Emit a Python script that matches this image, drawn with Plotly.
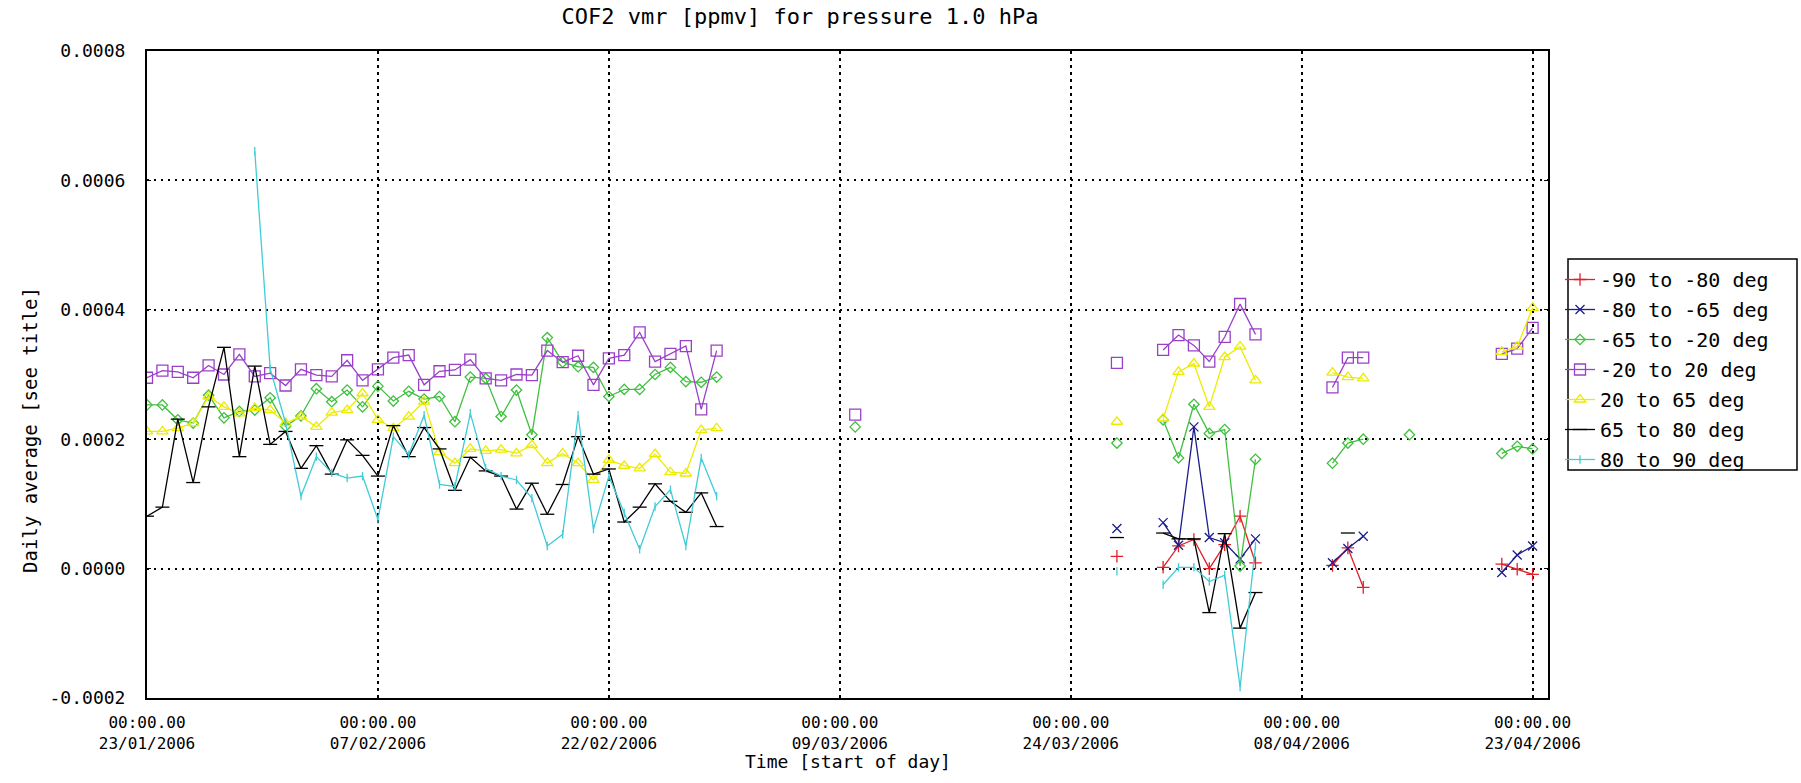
import datetime as dt
import plotly.graph_objects as go

# ---------------- data (values in units of 1e-4 ppmv) ----------------
START = dt.date(2006, 1, 23)
SCALE = 1e-4

EARLY_DAYS = [0, 1, 2, 3, 4, 5, 6, 7, 8, 9, 10, 11, 12, 13, 14, 15, 16, 17, 18, 19,
              20, 21, 22, 23, 24, 25, 26, 27, 28, 29, 30, 31, 32, 33, 34, 35, 36, 37]
LATE_DAYS = [46, 63, 66, 67, 68, 69, 70, 71, 72, 77, 78, 79, 82, 88, 89, 90]

N = None

# -90 to -80 deg (late period only)
red_late = [N, 0.19, 0.02, 0.35, 0.45, 0.00, 0.37, 0.81, 0.09, 0.05, 0.32, -0.29, N, 0.07, -0.01, -0.09]
# -80 to -65 deg (late period only)
blue_late = [N, 0.62, 0.71, 0.36, 2.19, 0.48, 0.40, 0.15, 0.46, 0.09, 0.31, 0.50, N, -0.06, 0.21, 0.35]

# -65 to -20 deg
green_early = [2.53, 2.53, 2.30, 2.25, 2.68, 2.33, 2.43, 2.45, 2.64, 2.20, 2.36, 2.78, 2.58, 2.76, 2.50,
               2.82, 2.59, 2.74, 2.62, 2.66, 2.27, 2.96, 2.94, 2.35, 2.76, 2.07, 3.57, 3.19, 3.12, 3.11,
               2.66, 2.77, 2.77, 3.00, 3.11, 2.89, 2.88, 2.96]
green_late = [2.19, 1.94, 2.30, 1.71, 2.54, 2.09, 2.15, 0.04, 1.69, 1.63, 1.94, 2.00, 2.07, 1.78, 1.89, 1.85]

# -20 to 20 deg
purple_early = [2.95, 3.06, 3.04, 2.95, 3.14, 3.00, 3.31, 2.97, 3.02, 2.83, 3.08, 2.99, 2.97, 3.22, 2.91,
                3.08, 3.26, 3.30, 2.84, 3.05, 3.07, 3.23, 2.94, 2.91, 3.00, 2.99, 3.37, 3.19, 3.29, 2.84,
                3.25, 3.30, 3.65, 3.20, 3.32, 3.44, 2.46, 3.37]
purple_late = [2.38, 3.18, 3.38, 3.61, 3.45, 3.20, 3.58, 4.09, 3.62, 2.80, 3.26, 3.26, N, 3.32, 3.40, 3.72]

# 20 to 65 deg
yellow_early = [2.12, 2.12, 2.17, 2.25, 2.66, 2.50, 2.40, 2.48, 2.45, 2.25, 2.35, 2.19, 2.41, 2.45, 2.71,
                2.30, 2.17, 2.35, 2.58, 1.80, 1.63, 1.85, 1.82, 1.84, 1.78, 1.91, 1.63, 1.78, 1.63, 1.37,
                1.68, 1.59, 1.55, 1.77, 1.49, 1.47, 2.14, 2.17]
yellow_late = [N, 2.27, 2.32, 3.04, 3.17, 2.50, 3.27, 3.43, 2.91, 3.03, 2.96, 2.94, N, 3.35, 3.43, 4.03]

# 65 to 80 deg
black_early = [0.81, 0.95, 2.31, 1.33, 2.50, 3.42, 1.73, 3.13, 1.92, 2.12, 1.55, 1.90, 1.46, 1.99, 1.75,
               1.43, 2.21, 1.73, 2.18, 1.85, 1.21, 1.72, 1.51, 1.43, 0.92, 1.32, 0.84, 1.30, 2.04, 1.46,
               1.54, 0.72, 0.95, 1.31, 1.04, 0.87, 1.17, 0.65]
black_late = [N, 0.48, 0.55, 0.46, 0.46, -0.68, 0.54, -0.92, -0.37, N, 0.55, N, N, N, N, N]

# 80 to 90 deg
cyan_early = [N, N, N, N, N, N, N, 6.45, 3.09, 2.25, 1.12, 1.73, 1.48, 1.40, 1.43,
              0.76, 2.04, 1.76, 2.37, 1.30, 1.27, 2.40, 1.55, 1.43, 1.37, 1.09, 0.35, 0.53, 2.37, 0.61,
              1.43, 0.86, 0.30, 0.96, 1.22, 0.35, 1.71, 1.12]
cyan_late = [N, -0.04, -0.25, 0.02, 0.02, -0.20, -0.10, -1.83, 0.35, N, N, N, N, N, N, N]

NAMES = ["-90 to -80 deg", "-80 to -65 deg", "-65 to -20 deg", "-20 to 20 deg",
         "20 to 65 deg", "65 to 80 deg", "80 to 90 deg"]

X_TICK_DAYS = [0, 15, 30, 45, 60, 75, 90]
Y_TICKS = [-0.0002, 0.0, 0.0002, 0.0004, 0.0006, 0.0008]
Y_TICK_TEXT = ["-0.0002", "0.0000", "0.0002", "0.0004", "0.0006", "0.0008"]

# ---------------- styles ----------------
STYLES = [
    dict(color="#e0202a", symbol="cross-thin", size=9),
    dict(color="#1e1e8c", symbol="x-thin", size=9),
    dict(color="#40c040", symbol="diamond-open", size=8),
    dict(color="#9a40c8", symbol="square-open", size=11),
    dict(color="#ecec00", symbol="triangle-up-open", size=10),
    dict(color="#000000", symbol="line-ew", size=10),
    dict(color="#40ccd8", symbol="line-ns", size=6),
]


def day_to_date(d):
    return START + dt.timedelta(days=d)


def build_xy(days, vals):
    xs, ys = [], []
    prev = None
    for d, v in zip(days, vals):
        if prev is not None and d - prev > 1:
            xs.append(None)
            ys.append(None)
        xs.append(day_to_date(d))
        ys.append(None if v is None else v * SCALE)
        prev = d
    return xs, ys


series = [
    (LATE_DAYS, red_late),
    (LATE_DAYS, blue_late),
    (EARLY_DAYS + LATE_DAYS, green_early + green_late),
    (EARLY_DAYS + LATE_DAYS, purple_early + purple_late),
    (EARLY_DAYS + LATE_DAYS, yellow_early + yellow_late),
    (EARLY_DAYS + LATE_DAYS, black_early + black_late),
    (EARLY_DAYS + LATE_DAYS, cyan_early + cyan_late),
]

FONT = "DejaVu Sans Mono"

fig = go.Figure()
for i, ((days, vals), name, st) in enumerate(zip(series, NAMES, STYLES)):
    xs, ys = build_xy(days, vals)
    fig.add_trace(go.Scatter(
        x=xs, y=ys, name=name, mode="lines+markers", connectgaps=False,
        legendgroup=f"g{i}",
        line=dict(color=st["color"], width=1.3),
        marker=dict(symbol=st["symbol"], size=st["size"], color=st["color"],
                    line=dict(color=st["color"], width=1.3)),
    ))

L, R, T, B = 147, 1548, 51, 698
W, H = 1801, 783
plot_w, plot_h = R - L, B - T


def px_x(p):
    return (p - L) / plot_w


def px_y(p):
    return (B - p) / plot_h


fig.update_layout(
    width=W, height=H,
    margin=dict(l=L, r=W - R, t=T, b=H - B, pad=0),
    paper_bgcolor="white", plot_bgcolor="white",
    font=dict(family=FONT, color="black", size=16),
    title=dict(text="COF2 vmr [ppmv] for pressure 1.0 hPa", x=px_x(800), xref="paper",
               xanchor="center", y=1 - 16 / H, yanchor="middle",
               font=dict(family=FONT, size=22, color="black")),
    showlegend=True,
    legend=dict(x=px_x(1560), y=px_y(260), xanchor="left", yanchor="top",
                bgcolor="rgba(0,0,0,0)", borderwidth=0, traceorder="grouped",
                tracegroupgap=1, font=dict(family=FONT, size=20, color="black")),
    xaxis=dict(
        type="date", range=[day_to_date(0), day_to_date(91)],
        tickvals=[day_to_date(d) for d in X_TICK_DAYS],
        ticktext=["00:00.00<br>" + day_to_date(d).strftime("%d/%m/%Y") for d in X_TICK_DAYS],
        showgrid=True, gridcolor="black", gridwidth=2, griddash="3px,4px",
        showline=True, linecolor="black", linewidth=2, mirror=True,
        ticks="", ticklabelstandoff=9, tickfont=dict(family=FONT, size=16), zeroline=False,
    ),
    yaxis=dict(
        range=[-0.0002, 0.0008], tickvals=Y_TICKS, ticktext=Y_TICK_TEXT,
        showgrid=True, gridcolor="black", gridwidth=1.5, griddash="2px,5px",
        showline=True, linecolor="black", linewidth=2, mirror="ticks",
        ticks="inside", ticklen=4, tickcolor="black", ticklabelstandoff=16,
        tickfont=dict(family=FONT, size=18), zeroline=False,
    ),
    shapes=[dict(type="rect", xref="paper", yref="paper",
                 x0=px_x(1568), x1=px_x(1797), y0=px_y(470), y1=px_y(259),
                 line=dict(color="black", width=1.5), fillcolor="rgba(0,0,0,0)")],
    annotations=[
        dict(text="Daily average [see title]", xref="paper", yref="paper",
             x=px_x(30), y=px_y(430), textangle=-90, showarrow=False,
             xanchor="center", yanchor="middle", font=dict(family=FONT, size=19)),
        dict(text="Time [start of day]", xref="paper", yref="paper",
             x=0.5, y=px_y(762), showarrow=False, xanchor="center", yanchor="middle",
             font=dict(family=FONT, size=18)),
    ],
)

fig.write_html("out.html", config={"displayModeBar": False},
               post_script="document.body.style.margin='0';document.body.style.overflow='hidden';")
